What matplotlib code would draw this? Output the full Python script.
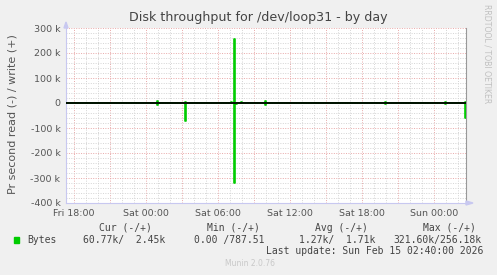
import matplotlib
matplotlib.use("Agg")
import matplotlib.pyplot as plt
import numpy as np

# -------- Data (hours relative to Fri 18:00, 5 minute samples) --------
t_start = -2 / 3   # Fri 17:20
t_end = 32 + 2 / 3  # Sun 02:40
step_h = 1 / 12

read_times = [6.92, 9.25, 13.33, 13.50, 15.92, 25.92, 30.92, 32.58]
read_vals = [9e3, 71e3, 321.6e3, 4e3, 8e3, 3e3, 2e3, 60.77e3]

write_times = [-0.25, 1.67, 6.92, 9.25, 13.08, 13.33, 13.92, 15.92, 16.58,
               22.92, 25.92, 30.92, 32.58]
write_vals = [2e3, 1.7e3, 8e3, 2.5e3, 3e3, 256.18e3, 3e3, 8e3, 1.5e3,
              1.5e3, 4e3, 3e3, 2.45e3]

x_tick_pos = [0, 6, 12, 18, 24, 30]
x_tick_labels = ["Fri 18:00", "Sat 00:00", "Sat 06:00", "Sat 12:00",
                 "Sat 18:00", "Sun 00:00"]
y_tick_pos = [300e3, 200e3, 100e3, 0, -100e3, -200e3, -300e3, -400e3]
y_tick_labels = ["300 k", "200 k", "100 k", "0", "-100 k", "-200 k",
                 "-300 k", "-400 k"]

legend_heads = ["Cur (-/+)", "Min (-/+)", "Avg (-/+)", "Max (-/+)"]
legend_vals = ["60.77k/  2.45k", "0.00 /787.51", "1.27k/  1.71k",
               "321.60k/256.18k"]

# -------- Build sample series --------
t = np.arange(t_start, t_end + step_h / 2, step_h)
read = np.zeros_like(t)
write = np.zeros_like(t)
for tt, v in zip(read_times, read_vals):
    read[np.argmin(abs(t - tt))] = v
for tt, v in zip(write_times, write_vals):
    write[np.argmin(abs(t - tt))] = v

# -------- Figure --------
W, H = 497, 275
fig = plt.figure(figsize=(W / 100, H / 100), dpi=100, facecolor="#f0f0f0")
ax = fig.add_axes([66 / W, 1 - 203 / H, 400 / W, 175 / H])
ax.set_facecolor("white")

green = "#00cc00"
ax.plot(t, write, color=green, lw=1.2, drawstyle="steps-mid", zorder=3)
ax.plot(t, -read, color=green, lw=1.2, drawstyle="steps-mid", zorder=3)
ax.axhline(0, color="black", lw=1.3, zorder=4)

ax.set_xlim(t_start, t_end)
ax.set_ylim(-400e3, 300e3)

ax.set_xticks(x_tick_pos)
ax.set_xticklabels(x_tick_labels)
ax.set_yticks(y_tick_pos)
ax.set_yticklabels(y_tick_labels)

ax.tick_params(axis="both", which="both", length=0, labelsize=6.8,
               labelcolor="#555555", pad=4)

# grid: minor grey every hour / 20k, major red every 3 h / 100k
dots = (0, (1, 1.5))
for h in np.arange(0, 33, 1):
    c = "#e8a8a8" if h % 3 == 0 else "#d4d4d4"
    ax.axvline(h, color=c, lw=0.7, ls=dots, zorder=1)
for y in np.arange(-400e3, 300e3 + 1, 20e3):
    c = "#e8a8a8" if y % 100e3 == 0 else "#d4d4d4"
    ax.axhline(y, color=c, lw=0.7, ls=dots, zorder=1)

ax.spines["top"].set_visible(False)
ax.spines["right"].set_color("#999999")
ax.spines["right"].set_linewidth(0.8)
for s in ["left", "bottom"]:
    ax.spines[s].set_color("#c8c8f0")
    ax.spines[s].set_linewidth(0.8)

# axis arrows
fig.patches.append(plt.Polygon([[64 / W, 1 - 28 / H], [68 / W, 1 - 28 / H],
                                [66 / W, 1 - 22 / H]], closed=True,
                               transform=fig.transFigure, color="#c8c8f0"))
fig.patches.append(plt.Polygon([[466 / W, 1 - 201 / H], [466 / W, 1 - 205 / H],
                                [473 / W, 1 - 203 / H]], closed=True,
                               transform=fig.transFigure, color="#c8c8f0"))

# title and labels
fig.text(258 / W, 1 - 18 / H, "Disk throughput for /dev/loop31 - by day",
         ha="center", va="center", fontsize=9.1, color="#444444")
fig.text(13 / W, 1 - 114 / H, "Pr second read (-) / write (+)",
         rotation=90, ha="center", va="center", fontsize=8.0, color="#555555")
fig.text(487 / W, 1 - 54 / H, "RRDTOOL / TOBI OETIKER", rotation=270,
         ha="center", va="center", fontsize=5.6, color="#c0c0c0")

# legend
mono = "DejaVu Sans Mono"
head_x = [99, 207, 315, 423]
for x, s in zip(head_x, legend_heads):
    fig.text(x / W, 1 - 228 / H, s, ha="left", va="center", family=mono,
             fontsize=7.0, color="#444444")
val_x = [83, 194, 299, 393]
for x, s in zip(val_x, legend_vals):
    fig.text(x / W, 1 - 240 / H, s, ha="left", va="center", family=mono,
             fontsize=7.0, color="#444444")
fig.patches.append(plt.Rectangle((14 / W, 1 - 243 / H), 5 / W, 6 / H,
                                 transform=fig.transFigure, color=green))
fig.text(27 / W, 1 - 240 / H, "Bytes", ha="left", va="center", family=mono,
         fontsize=7.0, color="#444444")
fig.text(483 / W, 1 - 251 / H, "Last update: Sun Feb 15 02:40:00 2026",
         ha="right", va="center", family=mono, fontsize=7.0, color="#444444")
fig.text(250 / W, 1 - 264 / H, "Munin 2.0.76", ha="center", va="center",
         fontsize=5.5, color="#c8c8c8")

fig.savefig("out.png", dpi=100, facecolor=fig.get_facecolor())
